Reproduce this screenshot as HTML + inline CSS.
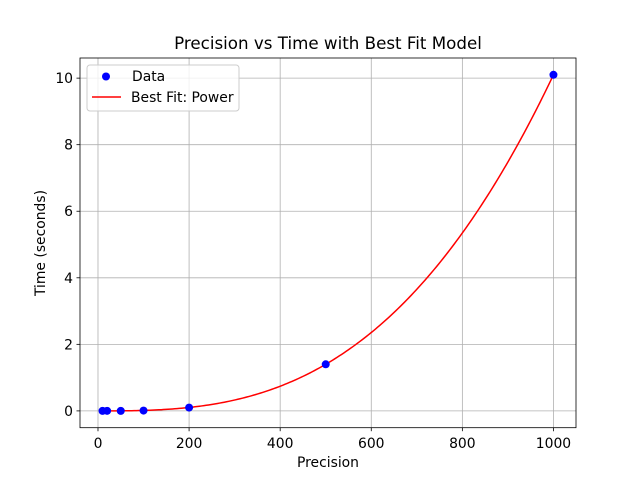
<!DOCTYPE html>
<html><head><meta charset="utf-8"><style>
body{margin:0;background:#fff}
svg{font-family:"DejaVu Sans","Liberation Sans",sans-serif}
</style></head><body>
<svg id="c" width="640" height="480" viewBox="0 0 640 480"></svg>
<script>
const xData=[10,20,50,100,200,500,1000];
const yData=[0.0003,0.002,0.001,0.01,0.1,1.4,10.1];
const xTicks=[0,200,400,600,800,1000];
const yTicks=[0,2,4,6,8,10];
const fitB=2.85;
const fitA=10.1/Math.pow(1000,fitB);
const L=80,R=576,T=58,B=427.7;
const xmin=-39.5,xmax=1049.5,ymin=-0.505,ymax=10.605;
const X=v=>L+(v-xmin)/(xmax-xmin)*(R-L);
const Y=v=>B-(v-ymin)/(ymax-ymin)*(B-T);
const svg=document.getElementById('c');
const NS='http://www.w3.org/2000/svg';
function mk(t,a,p){const e=document.createElementNS(NS,t);for(const k in a)e.setAttribute(k,a[k]);(p||svg).appendChild(e);return e;}
let e;
xTicks.forEach(t=>{e=mk('line',{x1:X(t),x2:X(t),y1:T,y2:B,stroke:'#b0b0b0','stroke-width':0.8});


e=mk('line',{x1:X(t),x2:X(t),y1:B,y2:B+3.5,stroke:'#000','stroke-width':0.8});


e=mk('text',{x:X(t),y:B+20.5,'text-anchor':'middle','font-size':13.9});e.textContent=t;

});
yTicks.forEach(t=>{e=mk('line',{x1:L,x2:R,y1:Y(t),y2:Y(t),stroke:'#b0b0b0','stroke-width':0.8});


e=mk('line',{x1:L-3.5,x2:L,y1:Y(t),y2:Y(t),stroke:'#000','stroke-width':0.8});


e=mk('text',{x:L-7,y:Y(t)+5,'text-anchor':'end','font-size':13.9});e.textContent=t;

});
let d='';for(let i=0;i<=200;i++){const x=10+(1000-10)*i/200;d+=(i?'L':'M')+X(x).toFixed(2)+','+Y(fitA*Math.pow(x,fitB)).toFixed(2);}
e=mk('path',{d:d,fill:'none',stroke:'#ff0000','stroke-width':1.5});


xData.forEach((x,i)=>{e=mk('circle',{cx:X(x),cy:Y(yData[i]),r:4,fill:'#0000ff'});

});
e=mk('rect',{x:L,y:T,width:R-L,height:B-T,fill:'none',stroke:'#000','stroke-width':0.8});


e=mk('text',{x:(L+R)/2,y:49,'text-anchor':'middle','font-size':16.7});e.textContent='Precision vs Time with Best Fit Model';


e=mk('text',{x:(L+R)/2,y:467,'text-anchor':'middle','font-size':13.9});e.textContent='Precision';


e=mk('text',{x:0,y:0,'text-anchor':'middle','font-size':13.9,transform:'translate(45,243) rotate(-90)'});e.textContent='Time (seconds)';


const g=mk('g',{});


mk('rect',{x:87,y:65,width:152,height:46,rx:3,fill:'#fff','fill-opacity':0.8,stroke:'#ccc','stroke-width':1},g);
e=mk('circle',{cx:106,cy:76.5,r:4,fill:'#0000ff'},g);


e=mk('text',{x:132,y:81,'font-size':13.9},g);e.textContent='Data';


e=mk('line',{x1:92,x2:121,y1:97,y2:97,stroke:'#ff0000','stroke-width':1.5},g);


e=mk('text',{x:131,y:102,'font-size':13.9},g);e.textContent='Best Fit: Power';


</script>
</body></html>
